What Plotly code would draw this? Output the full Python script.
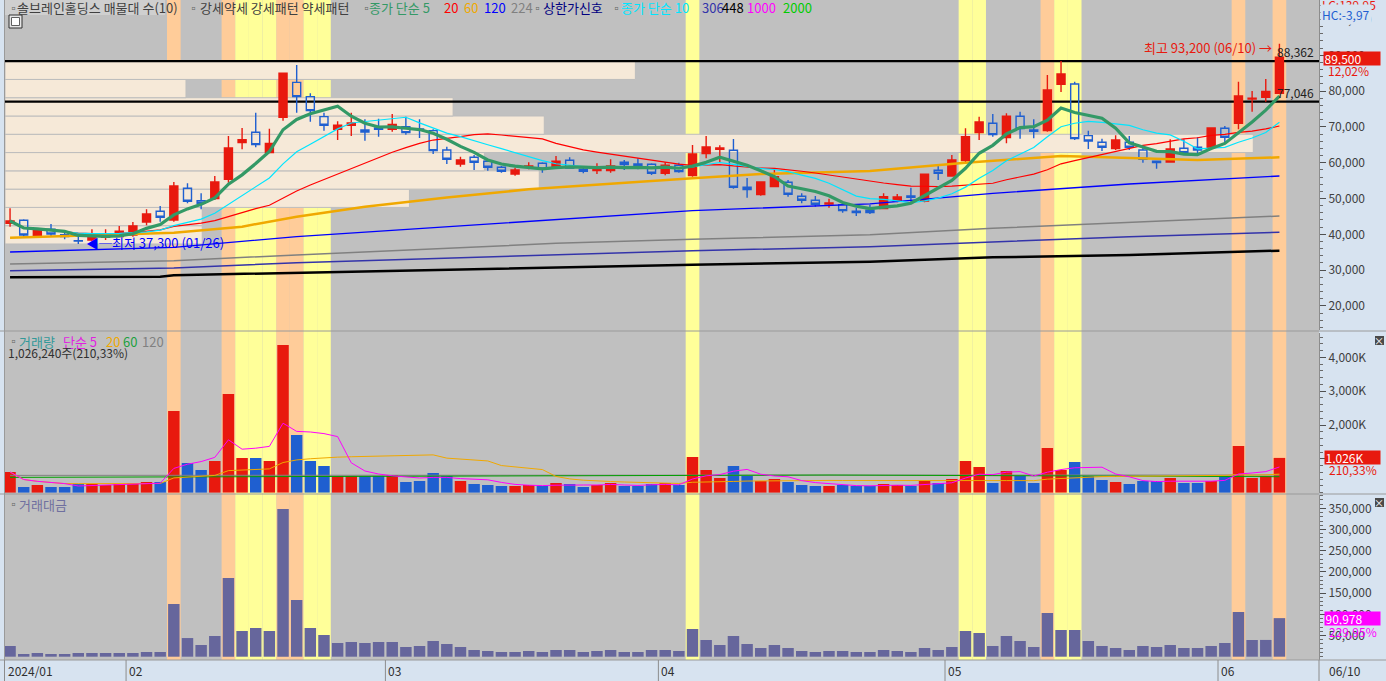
import plotly.graph_objects as go
import pandas as pd

# ---------------- data ----------------
dates = ["01/19", "01/22", "01/23", "01/24", "01/25", "01/26", "01/29", "01/30", "01/31",
         "02/01", "02/02", "02/05", "02/06", "02/07", "02/08", "02/13", "02/14", "02/15", "02/16",
         "02/19", "02/20", "02/21", "02/22", "02/23", "02/26", "02/27", "02/28", "02/29",
         "03/04", "03/05", "03/06", "03/07", "03/08", "03/11", "03/12", "03/13", "03/14", "03/15",
         "03/18", "03/19", "03/20", "03/21", "03/22", "03/25", "03/26", "03/27", "03/28", "03/29",
         "04/01", "04/02", "04/03", "04/04", "04/05", "04/08", "04/09", "04/11", "04/12", "04/15",
         "04/16", "04/17", "04/18", "04/19", "04/22", "04/23", "04/24", "04/25", "04/26", "04/29", "04/30",
         "05/02", "05/03", "05/07", "05/08", "05/09", "05/10", "05/13", "05/14", "05/16", "05/17",
         "05/20", "05/21", "05/22", "05/23", "05/24", "05/27", "05/28", "05/29", "05/30", "05/31",
         "06/03", "06/04", "06/05", "06/07", "06/10"]

opens = [43080, 43907, 39531, 41394, 39904, 38200, 38414, 39160, 39345, 39810,
         43441, 46421, 44000, 52845, 49400, 49958, 55358, 65600, 68485, 62806,
         72675, 82450, 78447, 72860, 69323, 70440, 69137, 69696, 69323, 70068,
         69400, 68950, 63551, 59641, 61503, 60385, 58710, 56848, 58710, 59827,
         58710, 60664, 58150, 57779, 57779, 60106, 59641, 59548, 57034, 59269,
         56383, 62526, 63737, 63457, 53124, 51076, 53310, 54521, 50610, 49493,
         48469, 48283, 46421, 46700, 47165, 49307, 50703, 49307, 57872, 56290,
         60572, 68392, 71000, 66996, 72954, 69137, 68950, 81892, 81985, 67555,
         65693, 63924, 65693, 63551, 60385, 60200, 64017, 64296, 64296, 69602,
         71000, 77800, 78261, 79400]
highs = [47258, 44186, 41670, 42883, 40462, 39345, 41393, 41393, 42324, 43441,
         46979, 47910, 54614, 54241, 51448, 56290, 67462, 69696, 73978, 69510,
         85000, 87292, 79379, 73978, 71557, 73978, 72116, 72303, 73606, 72861,
         72116, 69323, 64482, 61689, 62154, 60944, 59082, 58617, 60106, 60106,
         61875, 61503, 59082, 59827, 60944, 60758, 61224, 59827, 60106, 60013,
         64947, 67462, 64854, 66623, 55731, 54800, 57965, 55172, 51448, 50703,
         49958, 48655, 47352, 48283, 51448, 51262, 53031, 56755, 59548, 62154,
         69602, 72861, 73606, 73792, 74257, 72116, 84500, 88409, 82636, 68950,
         66716, 67647, 67462, 64482, 60572, 66530, 66530, 67090, 69696, 70254,
         82636, 80030, 83380, 93200]
lows = [42138, 39345, 39345, 39531, 38600, 37300, 38000, 38414, 39160, 39345,
        42510, 43535, 43535, 48655, 46979, 49586, 54427, 63737, 64296, 62806,
        71744, 73978, 71464, 68950, 66344, 67462, 66158, 67275, 68671, 67833,
        66903, 62434, 59641, 58896, 57965, 57779, 57220, 56383, 58150, 57220,
        58430, 58524, 57034, 56848, 57220, 57965, 58150, 56569, 56476, 57220,
        56104, 61224, 60200, 52751, 50238, 50796, 53124, 50517, 48655, 47724,
        47445, 46048, 45117, 45676, 46979, 48934, 49120, 48934, 55172, 56104,
        59641, 66343, 67276, 65413, 66716, 66809, 68671, 79750, 66344, 63830,
        63271, 63551, 63551, 60013, 58338, 60013, 62154, 62434, 63737, 65600,
        69323, 74257, 77050, 79300]
closes = [43720, 39810, 41020, 40090, 39345, 38100, 39345, 40090, 40834, 42324,
          45676, 44744, 53496, 49214, 48655, 54614, 64110, 66437, 65040, 65400,
          85000, 78447, 74537, 70440, 70440, 71092, 68578, 69323, 70719, 68392,
          69300, 63364, 60944, 60758, 60106, 58710, 57592, 57965, 59082, 58150,
          60385, 58524, 57592, 58338, 59082, 59455, 58989, 57034, 59269, 57499,
          62434, 64389, 64110, 53124, 52472, 54614, 56104, 51169, 49493, 48376,
          48748, 46607, 46048, 46048, 50517, 50424, 50331, 56755, 57034, 60758,
          67276, 71371, 67835, 72954, 69509, 68765, 80309, 84778, 66716, 66065,
          64296, 66344, 64296, 60944, 60013, 63830, 62806, 63551, 69696, 67090,
          78633, 78000, 79900, 89500]

# volume in thousand shares
volume_k = [609, 166, 225, 166, 166, 254, 254, 225, 254, 284,
            314, 314, 2414, 876, 669, 935, 2917, 1024, 1024, 935,
            4367, 1704, 935, 787, 491, 491, 491, 491, 521, 314,
            343, 580, 491, 343, 254, 225, 195, 195, 225, 195,
            284, 254, 166, 225, 284, 195, 195, 254, 284, 225,
            1053, 669, 432, 787, 491, 343, 402, 314, 225, 195,
            195, 225, 195, 195, 254, 225, 195, 343, 284, 402,
            935, 757, 284, 639, 491, 284, 1320, 669, 905, 491,
            373, 314, 254, 343, 343, 432, 284, 284, 343, 462,
            1379, 432, 488, 1026.24]
# trading value in million won
amount_m = [25236, 6368, 8726, 6368, 6368, 8726, 8726, 8726, 8726, 8726,
            11085, 11085, 124292, 44000, 27594, 48821, 185613, 60613, 67689, 60613,
            348349, 133726, 67689, 51179, 32311, 34670, 32311, 34670, 34670, 22877,
            25236, 37028, 29953, 22877, 15802, 13443, 11085, 11085, 13443, 11085,
            15802, 15802, 11085, 13443, 15802, 11085, 11085, 15802, 15802, 13443,
            65330, 39387, 27594, 48821, 29953, 20519, 27594, 20519, 13443, 11085,
            13443, 13443, 11085, 11085, 15802, 13443, 11085, 20519, 15802, 22877,
            60613, 55896, 25236, 48821, 37028, 22877, 103066, 62972, 62972, 37028,
            25236, 20519, 15802, 25236, 22877, 27594, 20519, 20519, 25236, 32311,
            105425, 39387, 39564, 90978]

# long moving averages (candle index -> value)
ma60_idx = [0, 12, 17, 21, 26, 32, 38, 45, 50, 55, 63, 70, 77, 79, 87, 93]
ma60_val = [39066, 40462, 42138, 44930, 47724, 50300, 52565, 54241, 55637, 56848, 57700, 60013, 61875, 61689, 60758, 61503]
ma120_idx = [0, 12, 21, 32, 40, 50, 63, 72, 82, 93]
ma120_val = [35062, 36365, 39345, 42100, 44000, 46607, 48500, 51448, 54055, 56290]
ma224_idx = [0, 12, 21, 32, 40, 50, 63, 72, 82, 93]
ma224_val = [31711, 32642, 34224, 36086, 37483, 38600, 39900, 41670, 43348, 45117]
ma306_idx = [0, 12, 21, 32, 40, 50, 63, 72, 82, 93]
ma306_val = [29849, 30594, 32084, 33293, 34224, 35434, 36500, 37948, 39345, 40555]
ma448_idx = [0, 11, 12, 21, 32, 40, 50, 63, 72, 82, 93]
ma448_val = [27987, 28173, 28546, 29290, 30221, 30687, 31524, 32350, 33573, 34224, 35434]

vol_ma60_idx = [0, 30, 60, 93]
vol_ma60_val = [450, 480, 520, 470]
vol_ma120_idx = [0, 30, 60, 93]
vol_ma120_val = [510, 520, 530, 520]

strong_idx = [12, 16, 20, 21, 76, 90, 93]
weak_idx = [17, 18, 19, 22, 23, 50, 70, 71, 77, 78]
limit_up_idx = [20]

profile_low, profile_high = 37300, 88362
profile_share = [15.8, 15.8, 32.4, 42.8, 38.4, 100, 43.2, 35.9, 14.5, 50.5]  # bottom -> top
level_lines = [88362, 77046]

month_labels = ["2024/01", "02", "03", "04", "05", "06"]
month_start = [0, 9, 28, 48, 69, 89]

price_ticks = [20000, 30000, 40000, 50000, 60000, 70000, 80000, 90000, 100000]
vol_ticks_k = [1000, 2000, 3000, 4000]
amt_ticks = [50000, 100000, 150000, 200000, 250000, 300000, 350000]

# ---------------- geometry / style ----------------
W, H = 1386, 681
ML, MR, MT, MB = 5, 67, 0, 21
PW, PH = W - ML - MR, H - MT - MB


def px(x):
    return (x - ML) / PW


def py(y):
    return 1 - (y - MT) / PH


RED = "#e8190e"
BLUE = "#1f5fd0"
AMT = "#66669c"
GRAYBG = "#c0c0c0"
AXBG = "#d7e3f0"
ORANGE_HL = "#ffcc99"
YELLOW_HL = "#ffff99"
BEIGE = "#f6e9d8"
KFONT = "Noto Sans CJK KR"

xs = list(range(len(dates)))
n = len(xs)
XR = [-0.37, 95.9]

close_s = pd.Series(closes)
ma5 = close_s.rolling(5, min_periods=1).mean()
ma10 = close_s.rolling(10, min_periods=1).mean()
ma20 = close_s.rolling(20, min_periods=1).mean()
vol_s = pd.Series(volume_k)
vma5 = vol_s.rolling(5, min_periods=1).mean()
vma20 = vol_s.rolling(20, min_periods=1).mean()

fig = go.Figure()

# long MAs
for idx, val, col, w in [(ma448_idx, ma448_val, "#000000", 2.5),
                         (ma306_idx, ma306_val, "#3333aa", 1.5),
                         (ma224_idx, ma224_val, "#808080", 1.5),
                         (ma120_idx, ma120_val, "#0000ff", 1.3),
                         (ma60_idx, ma60_val, "#f0a800", 2.5)]:
    fig.add_trace(go.Scatter(x=idx, y=val, mode="lines", line=dict(color=col, width=w),
                             xaxis="x", yaxis="y", hoverinfo="skip", showlegend=False))
fig.add_trace(go.Scatter(x=xs, y=ma20, mode="lines", line=dict(color="#ff0000", width=1.2),
                         xaxis="x", yaxis="y", hoverinfo="skip", showlegend=False))
fig.add_trace(go.Scatter(x=xs, y=ma10, mode="lines", line=dict(color="#00e5ff", width=1.2),
                         xaxis="x", yaxis="y", hoverinfo="skip", showlegend=False))
fig.add_trace(go.Scatter(x=xs, y=ma5, mode="lines", line=dict(color="#339966", width=3.2),
                         xaxis="x", yaxis="y", hoverinfo="skip", showlegend=False))

fig.add_trace(go.Candlestick(
    x=xs, open=opens, high=highs, low=lows, close=closes,
    increasing=dict(line=dict(color=RED, width=1.4), fillcolor=RED),
    decreasing=dict(line=dict(color=BLUE, width=1.4), fillcolor="rgba(0,0,0,0)"),
    whiskerwidth=0, xaxis="x", yaxis="y", showlegend=False, text=dates))

# volume
vcolors = [RED if c >= o else BLUE for o, c in zip(opens, closes)]
fig.add_trace(go.Bar(x=xs, y=volume_k, marker=dict(color=vcolors, line=dict(width=0)), width=0.84,
                     xaxis="x2", yaxis="y2", showlegend=False, text=dates, textposition="none"))
fig.add_trace(go.Scatter(x=vol_ma120_idx, y=vol_ma120_val, mode="lines", line=dict(color="#808080", width=1),
                         xaxis="x2", yaxis="y2", hoverinfo="skip", showlegend=False))
fig.add_trace(go.Scatter(x=vol_ma60_idx, y=vol_ma60_val, mode="lines", line=dict(color="#00a000", width=1),
                         xaxis="x2", yaxis="y2", hoverinfo="skip", showlegend=False))
fig.add_trace(go.Scatter(x=xs, y=vma20, mode="lines", line=dict(color="#f0a800", width=1),
                         xaxis="x2", yaxis="y2", hoverinfo="skip", showlegend=False))
fig.add_trace(go.Scatter(x=xs, y=vma5, mode="lines", line=dict(color="#ff00ff", width=1),
                         xaxis="x2", yaxis="y2", hoverinfo="skip", showlegend=False))

# trading value
fig.add_trace(go.Bar(x=xs, y=amount_m, marker=dict(color=AMT, line=dict(width=0)), width=0.84,
                     xaxis="x3", yaxis="y3", showlegend=False, text=dates, textposition="none"))

# ---------------- shapes ----------------
shapes = []
shapes.append(dict(type="rect", xref="paper", yref="paper", x0=0, x1=1, y0=0, y1=1,
                   fillcolor=GRAYBG, line=dict(width=0), layer="below"))
for i in strong_idx:
    shapes.append(dict(type="rect", xref="x", yref="paper", x0=i - 0.5, x1=i + 0.5, y0=0, y1=1,
                       fillcolor=ORANGE_HL, line=dict(width=0), layer="below"))
for i in weak_idx:
    shapes.append(dict(type="rect", xref="x", yref="paper", x0=i - 0.5, x1=i + 0.5, y0=0, y1=1,
                       fillcolor=YELLOW_HL, line=dict(width=0), layer="below"))
step = (profile_high - profile_low) / len(profile_share)
xspan = XR[1] - XR[0]
for k, s in enumerate(profile_share):
    shapes.append(dict(type="rect", xref="x", yref="y", x0=XR[0], x1=XR[0] + s / 100 * 0.95 * xspan,
                       y0=profile_low + k * step, y1=profile_low + (k + 1) * step,
                       fillcolor=BEIGE, line=dict(color="#bdbdbd", width=1), layer="below"))
for lv in level_lines:
    shapes.append(dict(type="line", xref="x", yref="y", x0=XR[0], x1=XR[1], y0=lv, y1=lv,
                       line=dict(color="#000000", width=2.2), layer="below"))

# panel separators and frame
for yy in [331, 494, 660]:
    shapes.append(dict(type="line", xref="paper", yref="paper", x0=px(0), x1=px(W), y0=py(yy), y1=py(yy),
                       line=dict(color="#9a9a9a", width=1), layer="above"))
shapes.append(dict(type="line", xref="paper", yref="paper", x0=px(4.5), x1=px(4.5), y0=py(0), y1=py(681),
                   line=dict(color="#9a9a9a", width=1), layer="above"))
# month separators in the date strip
for j, m in enumerate(month_start):
    if j == 0:
        shapes.append(dict(type="line", xref="paper", yref="paper", x0=px(4.5), x1=px(4.5), y0=py(660), y1=py(681),
                           line=dict(color="#8c8c8c", width=1)))
    else:
        shapes.append(dict(type="line", xref="x", yref="paper", x0=m - 0.5, x1=m - 0.5, y0=py(660), y1=py(681),
                           line=dict(color="#8c8c8c", width=1)))
shapes.append(dict(type="line", xref="paper", yref="paper", x0=px(1319), x1=px(1319), y0=py(660), y1=py(681),
                   line=dict(color="#8c8c8c", width=1)))
# title highlight box
shapes.append(dict(type="rect", xref="paper", yref="paper", x0=px(5), x1=px(165), y0=py(15), y1=py(0),
                   fillcolor="#cfcfcf", line=dict(width=0), layer="below"))
# small window icon
shapes.append(dict(type="rect", xref="paper", yref="paper", x0=px(9), x1=px(22), y0=py(28), y1=py(15),
                   fillcolor="#e6e6e6", line=dict(color="#303030", width=1), layer="above"))
shapes.append(dict(type="rect", xref="paper", yref="paper", x0=px(11.5), x1=px(19.5), y0=py(25.5), y1=py(17.5),
                   fillcolor="#ffffff", line=dict(color="#606060", width=1), layer="above"))
# close icons
for yy in [336, 498]:
    shapes.append(dict(type="rect", xref="paper", yref="paper", x0=px(1375), x1=px(1384), y0=py(yy + 9), y1=py(yy),
                       fillcolor="#4a4a4a", line=dict(width=0), layer="above"))

# ---------------- annotations ----------------
ann = []


def text(x, y, s, color="#404040", size=13, xanchor="left", family=KFONT, **kw):
    ann.append(dict(xref="paper", yref="paper", x=px(x), y=py(y), text=s, showarrow=False,
                    xanchor=xanchor, yanchor="middle", font=dict(family=family, size=size, color=color), **kw))


TY = 8
# top legend row
text(6, TY, "▫", "#606060", 11)
text(15, TY, "솔브레인홀딩스 매물대 수(10)", "#404040")
text(186, TY, "▫", "#606060", 11)
text(198, TY, "강세약세 강세패턴 약세패턴", "#404040")
text(359, TY, "▫", "#606060", 11)
text(367, TY, "종가 단순 5", "#339966")
text(442, TY, "20", "#ff0000")
text(462, TY, "60", "#f0a800")
text(482, TY, "120", "#0000ff")
text(509, TY, "224", "#808080")
text(530, TY, "▫", "#606060", 11)
text(541, TY, "상한가신호", "#000080")
text(609, TY, "▫", "#606060", 11)
text(619, TY, "종가 단순 10", "#00e5ff")
text(700, TY, "306", "#3333aa")
text(720, TY, "448", "#000000")
text(745, TY, "1000", "#ff00ff")
text(781, TY, "2000", "#00cc00")

# volume legend
text(6, 341, "▫", "#606060", 11)
text(17, 341, "거래량", "#339999")
text(61, 341, "단순 5", "#e020e0")
text(104, 341, "20", "#f0a800")
text(121, 341, "60", "#20a040")
text(140, 341, "120", "#808080")
text(6, 353, "1,026,240주(210,33%)", "#303030", 12)

# amount legend
text(6, 504, "▫", "#606060", 11)
text(17, 504, "거래대금", "#6f6f9f")

# right side labels
text(1320, 4, "LC:139,95", RED, 12)
text(1320, 15, "HC:-3,97", "#1f5fd0", 12, bgcolor=AXBG)
ann.append(dict(xref="paper", yref="paper", x=px(1323), y=py(58.3), text="89,500", showarrow=False,
                xanchor="left", yanchor="middle", align="left", width=55, height=12, bgcolor=RED, borderpad=0.5,
                font=dict(family=KFONT, size=12, color="#ffffff")))
text(1326, 71, "12,02%", RED, 12)
ann.append(dict(xref="paper", yref="paper", x=px(1324), y=py(457), text="1,026K", showarrow=False,
                xanchor="left", yanchor="middle", align="left", width=54, height=12, bgcolor=RED, borderpad=0.5,
                font=dict(family=KFONT, size=12, color="#ffffff")))
text(1327, 469, "210,33%", RED, 12)
ann.append(dict(xref="paper", yref="paper", x=px(1324), y=py(618.3), text="90,978", showarrow=False,
                xanchor="left", yanchor="middle", align="left", width=54, height=12, bgcolor="#ff00ff", borderpad=0.5,
                font=dict(family=KFONT, size=12, color="#ffffff")))
text(1327, 631, "229,95%", "#ff00ff", 12)
for yy in [340.5, 502.5]:
    text(1379.5, yy, "×", "#ffffff", 10, xanchor="center")

# date strip
for j, (lab, m) in enumerate(zip(month_labels, month_start)):
    if j == 0:
        text(5.5, 670, lab, "#303030", 12)
    else:
        ann.append(dict(xref="x", yref="paper", x=m - 0.5, y=py(670), text=lab, showarrow=False,
                        xanchor="left", yanchor="middle", xshift=1,
                        font=dict(family=KFONT, size=12, color="#303030")))
text(1327, 670, dates[-1], "#303030", 12)

# price level labels
for lv in level_lines:
    ann.append(dict(xref="paper", yref="y", x=px(1316), y=lv, text=f"{lv:,}", showarrow=False,
                    xanchor="right", yanchor="bottom", yshift=-1,
                    font=dict(family=KFONT, size=12, color="#202020")))

# high / low markers
ih = max(range(n), key=lambda i: highs[i])
il = min(range(n), key=lambda i: lows[i])
ann.append(dict(xref="x", yref="y", x=ih, y=highs[ih], text=f"최고 {highs[ih]:,} ({dates[ih]}) →",
                showarrow=False, xanchor="right", yanchor="middle", xshift=-5, yshift=-4,
                font=dict(family=KFONT, size=13, color=RED)))
ann.append(dict(xref="x", yref="y", x=il, y=lows[il], text=f"◀─최저 {lows[il]:,} ({dates[il]})",
                showarrow=False, xanchor="left", yanchor="middle", xshift=6, yshift=1,
                font=dict(family=KFONT, size=13, color="#0000ff")))
# upper-limit signal arrows
for i in limit_up_idx:
    ann.append(dict(xref="x", yref="y", x=i, y=highs[i], ax=0, ay=-24, text="", showarrow=True,
                    arrowhead=2, arrowsize=0.7, arrowwidth=5, arrowcolor="#000080", standoff=26,
                    startstandoff=0))

axis_font = dict(family=KFONT, size=12, color="#404040")
common_x = dict(showgrid=False, zeroline=False, showticklabels=False, showline=False, ticks="", range=XR)


def yax(domain, rng, tickvals, ticktext, minor_dtick):
    return dict(domain=domain, range=rng, side="right", showgrid=False, zeroline=False,
                tickmode="array", tickvals=tickvals, ticktext=ticktext, ticks="outside", ticklen=6,
                tickcolor="#505050", tickwidth=1, showline=True, linecolor="#8c8c8c", linewidth=1,
                tickfont=axis_font,
                minor=dict(ticks="outside", ticklen=3, tickcolor="#6a6a6a", tickmode="linear",
                           tick0=0, dtick=minor_dtick))


vol_ticktext = ["" if v == 1000 else f"{v:,}K" for v in vol_ticks_k]  # 1,000K sits under the value box

fig.update_layout(
    width=W, height=H, margin=dict(l=ML, r=MR, t=MT, b=MB),
    paper_bgcolor=AXBG, plot_bgcolor="rgba(0,0,0,0)",
    showlegend=False, boxgap=0.16, bargap=0.16,
    xaxis=dict(domain=[0, 1], anchor="y", rangeslider=dict(visible=False), **common_x),
    xaxis2=dict(domain=[0, 1], anchor="y2", matches="x", **common_x),
    xaxis3=dict(domain=[0, 1], anchor="y3", matches="x", **common_x),
    yaxis=yax([0.5, 1], [13268, 105447], price_ticks, [f"{v:,}" for v in price_ticks], 2000),
    yaxis2=yax([py(493), py(333)], [-12, 4722], vol_ticks_k, vol_ticktext, 200),
    yaxis3=yax([0, py(495)], [-7783, 381368], amt_ticks, [f"{v:,}" for v in amt_ticks], 10000),
    shapes=shapes, annotations=ann,
    font=dict(family=KFONT),
)

fig.write_html("out.html", config={"displayModeBar": False},
               post_script="document.body.style.margin='0';document.body.style.overflow='hidden';")
